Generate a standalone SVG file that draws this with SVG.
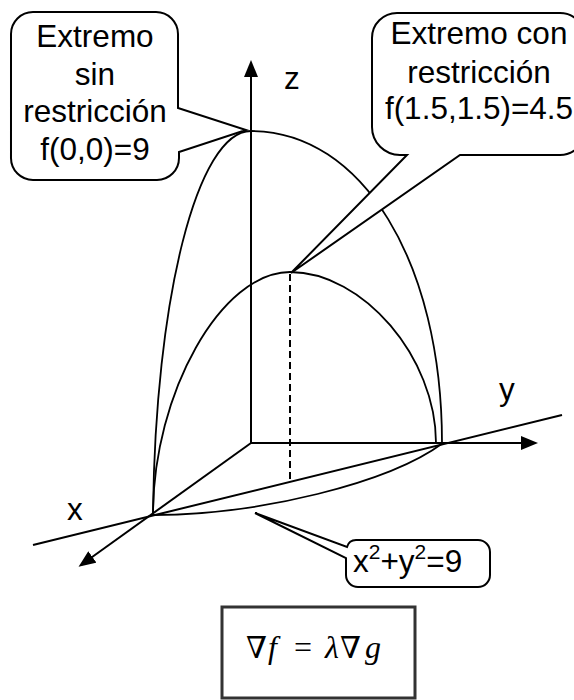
<svg xmlns="http://www.w3.org/2000/svg" width="574" height="700" viewBox="0 0 574 700">
<defs>
<marker id="arr" viewBox="0 0 17 14" refX="14" refY="7" markerWidth="17" markerHeight="14" markerUnits="userSpaceOnUse" orient="auto">
<path d="M0,0 L17,7 L0,14 Z" fill="#000"/>
</marker>
</defs>
<style>
.ln{fill:none;stroke:#000;stroke-width:2}
.cv{fill:none;stroke:#000;stroke-width:1.8}
.call{fill:#fff;stroke:#000;stroke-width:2;stroke-linejoin:miter}
.t{font-family:"Liberation Sans",Arial,sans-serif;font-size:31.5px;fill:#000}
.m{font-family:"Liberation Serif","DejaVu Serif",serif;font-size:32px;fill:#000}
.nab{font-family:"DejaVu Serif",serif;font-size:30px}
</style>
<rect width="574" height="700" fill="#fff"/>
<g id="connectors">
<line class="ln" x1="251" y1="443" x2="251" y2="63" marker-end="url(#arr)"/>
<line class="ln" x1="251" y1="443" x2="535" y2="443" marker-end="url(#arr)"/>
<line class="ln" x1="251" y1="443" x2="81" y2="565" marker-end="url(#arr)"/>
<line class="ln" x1="33" y1="545" x2="562" y2="415"/>
<path class="cv" d="M153,515 C155,300 197,131 251,131 C362,131 442,262 442,443"/>
<path class="cv" d="M153,515 C153,393 221.5,272 290,272 C363,272 436,357.5 436,443"/>
<path class="cv" d="M153,515 C259,515 389,483 443,443"/>
<line class="ln" x1="290" y1="274" x2="290" y2="482" stroke-dasharray="7,4"/>
</g>
<g id="label-z"><text class="t" x="284" y="89">z</text></g>
<g id="label-y"><text class="t" x="499" y="400">y</text></g>
<g id="label-x"><text class="t" x="67" y="520">x</text></g>
<g id="callout-unconstrained">
<path class="call" d="M33,12 H156 A22,22 0 0 1 178,34 V108 L246,130 L179,152 V158 A22,22 0 0 1 157,180 H33 A22,22 0 0 1 11,158 V34 A22,22 0 0 1 33,12 Z"/>
<text class="t" text-anchor="middle" x="95" y="47">Extremo</text>
<text class="t" text-anchor="middle" x="95" y="85">sin</text>
<text class="t" text-anchor="middle" x="95" y="122">restricción</text>
<text class="t" text-anchor="middle" x="95" y="160">f(0,0)=9</text>
</g>
<g id="callout-constrained">
<path class="call" d="M397,13 H560 A25,25 0 0 1 585,38 V130 A25,25 0 0 1 560,155 H460 L291,273 L407,155 H400 A28,28 0 0 1 372,127 V38 A25,25 0 0 1 397,13 Z"/>
<text class="t" text-anchor="middle" x="479" y="44">Extremo con</text>
<text class="t" text-anchor="middle" x="479" y="83">restricción</text>
<text class="t" text-anchor="middle" x="479" y="119">f(1.5,1.5)=4.5</text>
</g>
<g id="callout-circle">
<path class="call" d="M356,540 H478 A12,12 0 0 1 490,552 V575 A12,12 0 0 1 478,587 H358 A12,12 0 0 1 346,575 V558 L255,513 L347,547 Q349,540 356,540 Z"/>
<text class="t" x="353" y="572">x<tspan font-size="21" dy="-13">2</tspan><tspan dy="13">+y</tspan><tspan font-size="21" dy="-13">2</tspan><tspan dy="13">=9</tspan></text>
</g>
<g id="formula">
<rect x="222" y="607" width="193" height="91" fill="#fff" stroke="#333" stroke-width="3"/>
<text class="m" y="658"><tspan class="nab" x="246">∇</tspan><tspan x="268" font-style="italic">f</tspan><tspan x="294">=</tspan><tspan x="325" font-style="italic">λ</tspan><tspan class="nab" x="340">∇</tspan><tspan x="365" font-style="italic">g</tspan></text>
</g>
</svg>
